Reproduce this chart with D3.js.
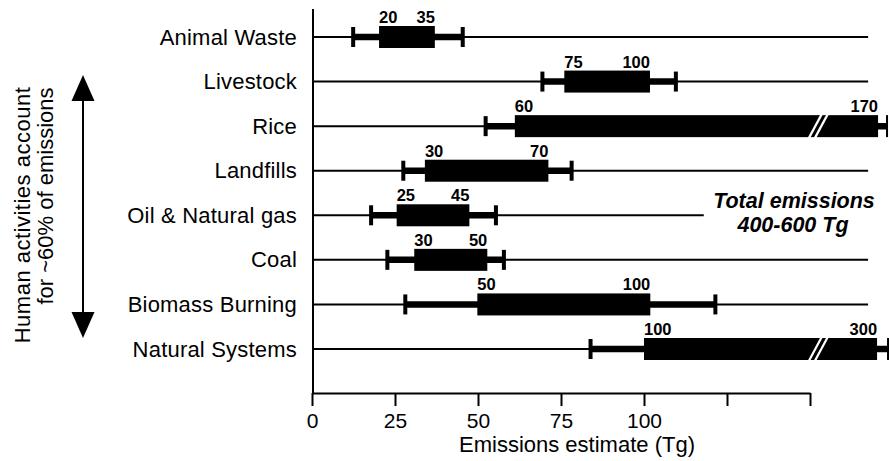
<!DOCTYPE html>
<html lang="en">
<head>
<meta charset="utf-8">
<title>Methane emission sources</title>
<script src="https://d3js.org/d3.v7.min.js"></script>
<style>
  body { margin: 0; background: #fff; }
  svg { display: block; font-family: "Liberation Sans", Arial, Helvetica, sans-serif; }
</style>
</head>
<body>
<div id="chart"></div>
<script>
// Sources, top to bottom
const sources = ["Animal Waste", "Livestock", "Rice", "Landfills", "Oil & Natural gas", "Coal", "Biomass Burning", "Natural Systems"];
// Positions as drawn against the axis (Tg)
const whiskerLow  = [12.4, 69.4, 52.3, 27.5, 17.8, 22.7, 28.1, 83.9];
const boxLow      = [20.2, 76.0, 61.1, 34.0, 25.5, 30.8, 49.8, 100.0];
const boxHigh     = [37.0, 101.8, 170.5, 71.2, 47.4, 52.8, 101.9, 170.2];
const whiskerHigh = [45.4, 109.6, 173.2, 78.2, 55.4, 57.8, 121.5, 173.5];
// Printed range labels
const lowLabels  = ["20", "75", "60", "30", "25", "30", "50", "100"];
const highLabels = ["35", "100", "170", "70", "45", "50", "100", "300"];
// Broken (off-scale) bars and baseline ends
const breakAt = [null, null, 152.5, null, null, null, null, 152.5];
const lineEnd = [167.5, 167.5, 52.3, 167.5, 118, 167.5, 167.5, 83.9];
// Axis
const tickValues = [0, 25, 50, 75, 100, 125, 150];
const tickLabels = ["0", "25", "50", "75", "100", "", ""];

const W = 889, H = 461;
const svg = d3.select("#chart").append("svg")
    .attr("width", W).attr("height", H);

const x = d3.scaleLinear().domain([0, 150]).range([312, 810]);
const y = d3.scalePoint().domain(sources).range([37, 349]);
const axisY = 393;

// vertical axis line
svg.append("line")
    .attr("x1", x(0) + 1).attr("x2", x(0) + 1)
    .attr("y1", 9).attr("y2", axisY)
    .attr("stroke", "#000").attr("stroke-width", 2);

// x axis
const xAxis = svg.append("g")
    .attr("transform", "translate(0," + axisY + ")")
    .call(d3.axisBottom(x).tickValues(tickValues)
        .tickFormat((d, i) => tickLabels[i])
        .tickSize(13).tickSizeOuter(0).tickPadding(7));
xAxis.select(".domain").attr("stroke-width", 2);
xAxis.selectAll(".tick line").attr("stroke-width", 2);
xAxis.selectAll(".tick text")
    .attr("font-size", 21).attr("font-family", "Liberation Sans, Arial, sans-serif")
    .attr("fill", "#000");

svg.append("text")
    .attr("x", 577).attr("y", 452)
    .attr("text-anchor", "middle")
    .attr("font-size", 22)
    .text("Emissions estimate (Tg)");

// rows
const rows = svg.append("g").selectAll("g")
    .data(sources).join("g")
    .attr("transform", d => "translate(0," + y(d) + ")");

rows.append("text")
    .attr("x", 297).attr("y", 7.5)
    .attr("text-anchor", "end")
    .attr("font-size", 22)
    .attr("letter-spacing", 0.2)
    .text(d => d);

// thin baseline
rows.append("line")
    .attr("x1", x(0)).attr("x2", (d, i) => x(lineEnd[i]))
    .attr("y1", 0).attr("y2", 0)
    .attr("stroke", "#000").attr("stroke-width", 2);

// whisker
rows.append("line")
    .attr("x1", (d, i) => x(whiskerLow[i]))
    .attr("x2", (d, i) => x(whiskerHigh[i]))
    .attr("y1", 0).attr("y2", 0)
    .attr("stroke", "#000")
    .attr("stroke-width", 6.5);

// caps
rows.append("rect")
    .attr("x", (d, i) => x(whiskerLow[i]) - 2)
    .attr("y", -10).attr("width", 4).attr("height", 20);
rows.append("rect")
    .attr("x", (d, i) => breakAt[i] ? x(whiskerHigh[i]) - 1 : x(whiskerHigh[i]) - 2)
    .attr("y", (d, i) => breakAt[i] ? -11 : -10)
    .attr("width", (d, i) => breakAt[i] ? 2 : 4)
    .attr("height", (d, i) => breakAt[i] ? 22 : 20);

// boxes
rows.append("rect")
    .attr("x", (d, i) => x(boxLow[i]))
    .attr("width", (d, i) => x(boxHigh[i]) - x(boxLow[i]))
    .attr("y", -11).attr("height", 22)
    .attr("fill", "#000");

// axis-break marks on off-scale bars
rows.filter((d, i) => breakAt[i] != null).each(function(d) {
    const i = sources.indexOf(d);
    const bx = x(breakAt[i]);
    const g = d3.select(this);
    [-3, 3].forEach(off => {
        g.append("line")
            .attr("x1", bx + off - 7).attr("y1", 13)
            .attr("x2", bx + off + 7).attr("y2", -13)
            .attr("stroke", "#fff").attr("stroke-width", 2.2);
    });
});

// value labels
rows.append("text")
    .attr("x", (d, i) => x(boxLow[i]))
    .attr("y", -14)
    .attr("font-size", 16.5).attr("font-weight", "bold")
    .text((d, i) => lowLabels[i]);
rows.append("text")
    .attr("x", (d, i) => x(boxHigh[i]))
    .attr("y", -14)
    .attr("text-anchor", "end")
    .attr("font-size", 16.5).attr("font-weight", "bold")
    .text((d, i) => highLabels[i]);

// total emissions note
const note = svg.append("text")
    .attr("text-anchor", "middle")
    .attr("font-size", 21.5).attr("font-weight", "bold").attr("font-style", "italic");
note.append("tspan").attr("x", 794).attr("y", 208).text("Total emissions");
note.append("tspan").attr("x", 793).attr("y", 232).text("400-600 Tg");

// left double arrow and caption
const ax = 83;
svg.append("line")
    .attr("x1", ax).attr("x2", ax).attr("y1", 95).attr("y2", 318)
    .attr("stroke", "#000").attr("stroke-width", 2);
svg.append("path")
    .attr("d", `M${ax},75 L${ax - 11.5},101 L${ax + 11.5},101 Z`);
svg.append("path")
    .attr("d", `M${ax},338 L${ax - 11.5},312 L${ax + 11.5},312 Z`);

const cap = svg.append("g")
    .attr("transform", "translate(0,205) rotate(-90)")
    .attr("text-anchor", "middle")
    .attr("font-size", 22);
cap.append("text").attr("x", -10).attr("y", 30)
    .attr("letter-spacing", 0.5).text("Human activities account");
cap.append("text").attr("x", 9).attr("y", 53).text("for ~60% of emissions");
</script>
</body>
</html>
